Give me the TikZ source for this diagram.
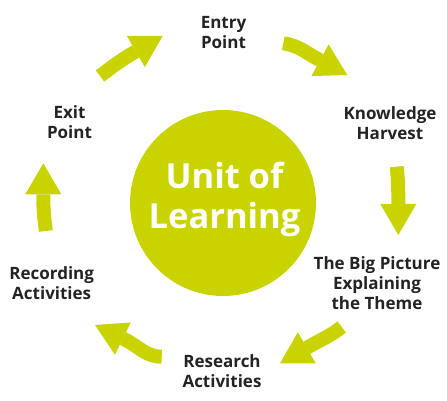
\documentclass[tikz,border=0pt]{standalone}
\usepackage{fontspec}
\setmainfont{Open Sans}
\usetikzlibrary{arrows.meta}
\definecolor{lime}{RGB}{200,211,0}
\definecolor{ink}{RGB}{35,35,35}
\begin{document}
\begin{tikzpicture}[x=1pt,y=1pt,
  lbl/.style={font=\bfseries\fontsize{17}{20}\selectfont, text=ink, align=center, inner sep=0pt, anchor=north},
  cyc/.style={draw=lime, line width=14pt, -{Triangle[length=31pt,width=36pt,line width=0pt]}},
]
\useasboundingbox (0,0) rectangle (447,401);
% hub
\node[circle, fill=lime, minimum size=186pt, inner sep=0pt] (hub) at (223,198) {};
\node[font=\bfseries\fontsize{34.5}{40}\selectfont, text=white, align=center, inner sep=0pt, anchor=north] (title) at (224.5,239) {Unit of\\Learning};
% labels
\node[lbl] (entry) at (223.5,385) {Entry\\Point};
\node[lbl] (harvest) at (390,295) {Knowledge\\Harvest};
\node[lbl] (bigpic) at (377,145) {The Big Picture\\Explaining\\the Theme};
\node[lbl] (research) at (222,47) {Research\\Activities};
\node[lbl] (recording) at (51.7,135) {Recording\\Activities};
\node[lbl] (exit) at (69.5,296) {Exit\\Point};
% arrow ends: tail, head base, tip
\coordinate (a1s) at (100,325);     \coordinate (a1m) at (134.1,348.5); \coordinate (a1e) at (162.7,365);
\coordinate (a2s) at (283.3,357.7); \coordinate (a2m) at (318.3,341.7); \coordinate (a2e) at (347.3,326);
\coordinate (a3s) at (396.7,234.3); \coordinate (a3m) at (398.3,199);   \coordinate (a3e) at (398.3,166);
\coordinate (a4s) at (341.7,74);    \coordinate (a4m) at (308.6,54.2);  \coordinate (a4e) at (280,37.7);
\coordinate (a5s) at (161.7,44.3);  \coordinate (a5m) at (124.7,61.5);  \coordinate (a5e) at (95,76);
\coordinate (a6s) at (45.8,170);    \coordinate (a6m) at (43.3,204.7);  \coordinate (a6e) at (43.3,237.7);
% arrows
\draw[cyc] (a1s) to[out=37,in=210] (a1m) -- (a1e);
\draw[cyc] (a2s) to[out=-8,in=151.5] (a2m) -- (a2e);
\draw[cyc] (a3s) to[out=-84,in=90] (a3m) -- (a3e);
\draw[cyc] (a4s) to[out=218,in=30] (a4m) -- (a4e);
\draw[cyc] (a5s) to[out=180,in=-26] (a5m) -- (a5e);
\draw[cyc] (a6s) to[out=97,in=-90] (a6m) -- (a6e);
\end{tikzpicture}
\end{document}
